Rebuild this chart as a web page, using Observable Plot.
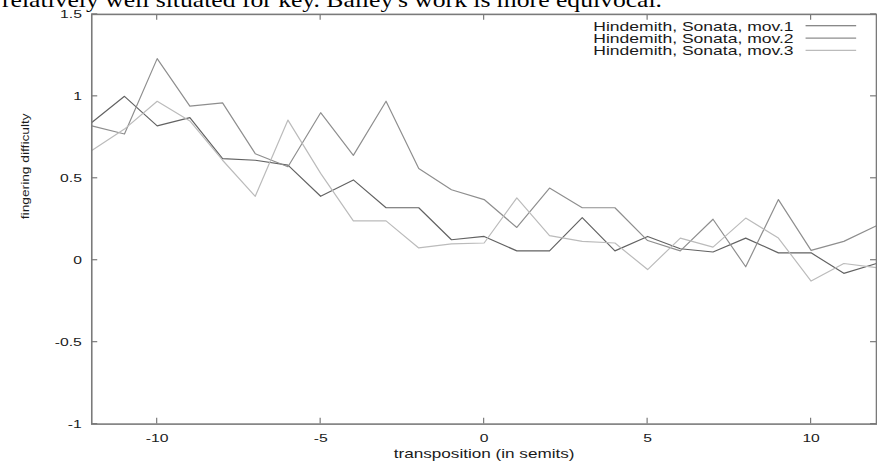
<!DOCTYPE html>
<html><head><meta charset="utf-8">
<script src="https://cdn.jsdelivr.net/npm/d3@7"></script>
<script src="https://cdn.jsdelivr.net/npm/@observablehq/plot@0.6"></script>
<style>
html,body{margin:0;padding:0;background:#fff;overflow:hidden;width:877px;height:468px;}
#wrap{position:relative;width:877px;height:468px;overflow:hidden;}
#head{position:absolute;left:0;top:0;}
#chart{position:absolute;left:0;top:0;}
</style></head><body>
<div id="wrap"><div id="chart"></div><svg id="head" width="877" height="20"></svg></div>
<script>
// ---- data ----
const transposition = [-12,-11,-10,-9,-8,-7,-6,-5,-4,-3,-2,-1,0,1,2,3,4,5,6,7,8,9,10,11,12];
const mov1 = [0.84,1.00,0.82,0.87,0.62,0.61,0.58,0.39,0.49,0.32,0.32,0.125,0.145,0.057,0.057,0.26,0.057,0.145,0.07,0.05,0.135,0.045,0.045,-0.08,-0.02];
const mov2 = [0.82,0.77,1.23,0.94,0.96,0.65,0.57,0.90,0.64,0.97,0.56,0.43,0.37,0.20,0.44,0.32,0.32,0.12,0.057,0.25,-0.04,0.37,0.06,0.115,0.21];
const mov3 = [0.67,0.80,0.97,0.85,0.61,0.39,0.855,0.53,0.24,0.24,0.075,0.10,0.105,0.38,0.15,0.115,0.105,-0.057,0.135,0.08,0.257,0.135,-0.127,-0.02,-0.045];
const seriesNames = ["Hindemith, Sonata, mov.1","Hindemith, Sonata, mov.2","Hindemith, Sonata, mov.3"];
const seriesColors = ["#626262","#8e8e8e","#bbbbbb"];
const xTicks = [-10,-5,0,5,10];
const yTicks = [-1,-0.5,0,0.5,1,1.5];
const xDomain = [-12,12];
const yDomain = [-1,1.5];
const xLabel = "transposition (in semits)";
const yLabel = "fingering difficulty";
const headText = "relatively well situated for key. Bailey's work is more equivocal.";

const seriesValues = [mov1, mov2, mov3];
const rows = transposition.flatMap((x, i) => seriesValues.map((vals, s) => ({x, y: vals[i], s: seriesNames[s]})));

const frameColor = "#7a7a7a";
const sans = "'Liberation Sans', Arial, sans-serif";

function innerTicks(index, scales, values, dims) {
  const {width, height, marginLeft, marginRight, marginTop, marginBottom} = dims;
  const L = marginLeft, R = width - marginRight, T = marginTop, B = height - marginBottom;
  const g = d3.create("svg:g").attr("stroke", frameColor).attr("stroke-width", 1.2);
  const len = 6;
  for (const v of xTicks) {
    const px = scales.x(v);
    g.append("line").attr("x1", px).attr("x2", px).attr("y1", B).attr("y2", B - len);
    g.append("line").attr("x1", px).attr("x2", px).attr("y1", T).attr("y2", T + len);
  }
  for (const v of yTicks) {
    const py = scales.y(v);
    g.append("line").attr("x1", L).attr("x2", L + len).attr("y1", py).attr("y2", py);
    g.append("line").attr("x1", R).attr("x2", R - len).attr("y1", py).attr("y2", py);
  }
  return g.node();
}

function legend(index, scales, values, dims) {
  const {width, marginRight, marginTop} = dims;
  const R = width - marginRight;
  const g = d3.create("svg:g");
  seriesNames.forEach((name, i) => {
    const base = marginTop + 17 + i * 12.4;
    g.append("text").attr("x", R - 83).attr("y", base).attr("text-anchor", "end")
      .attr("font-family", sans).attr("font-size", 12.5).attr("fill", "#1a1a1a")
      .attr("textLength", 202).attr("lengthAdjust", "spacingAndGlyphs").text(name);
    g.append("line").attr("x1", R - 71).attr("x2", R - 20).attr("y1", base - 5).attr("y2", base - 5)
      .attr("stroke", seriesColors[i]).attr("stroke-width", 1.1);
  });
  return g.node();
}

const chart = Plot.plot({
  width: 884,
  height: 468,
  marginLeft: 92,
  marginRight: 1,
  marginTop: 14,
  marginBottom: 41,
  style: {fontFamily: sans, background: "#fff", color: "#1a1a1a"},
  x: {domain: xDomain},
  y: {domain: yDomain},
  color: {domain: seriesNames, range: seriesColors},
  marks: [
    Plot.line(rows, {x: "x", y: "y", z: "s", stroke: "s", strokeWidth: 1.2}),
    Plot.frame({stroke: frameColor, strokeWidth: 1.6}),
    innerTicks,
    Plot.axisX(xTicks, {tickSize: 0, tickPadding: 10, fontSize: 11, label: null, tickFormat: d => String(d)}),
    Plot.axisY(yTicks, {tickSize: 0, tickPadding: 10, fontSize: 11, label: null, tickFormat: d => String(d)}),
    Plot.text([xLabel], {frameAnchor: "bottom", dy: 34, text: d => d, fontSize: 12, fill: "#1a1a1a"}),
    Plot.text([yLabel], {frameAnchor: "left", rotate: -90, dx: -67, text: d => d, fontSize: 11, fill: "#1a1a1a"}),
    legend
  ]
});
document.getElementById("chart").appendChild(chart);

// the scanned figure is stretched horizontally: widen glyphs the same way
d3.select(chart).selectAll("text").each(function() {
  if (this.hasAttribute("textLength")) return;
  const f = (this.textContent === yLabel) ? 1.26 : 1.44;
  const w = this.getComputedTextLength();
  if (w > 0) {
    this.setAttribute("textLength", (w * f).toFixed(1));
    this.setAttribute("lengthAdjust", "spacingAndGlyphs");
  }
});

d3.select("#head").append("text").attr("x", 2).attr("y", 7)
  .attr("font-family", "'Liberation Serif', 'Times New Roman', serif").attr("font-size", 21)
  .attr("fill", "#000").attr("textLength", 660).attr("lengthAdjust", "spacingAndGlyphs").text(headText);
</script>
</body></html>
